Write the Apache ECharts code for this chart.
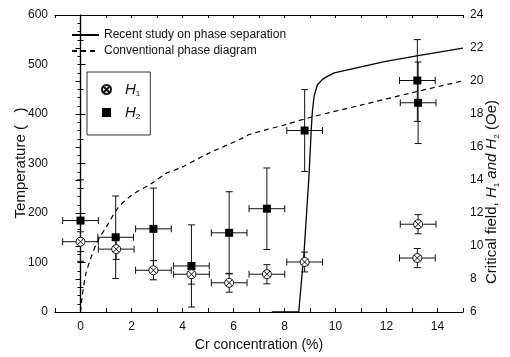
<!DOCTYPE html>
<html>
<head>
<meta charset="utf-8">
<script src="https://cdn.jsdelivr.net/npm/echarts@6/dist/echarts.min.js"></script>
<style>
  html, body { margin: 0; padding: 0; background: #fff; }
  #chart { width: 510px; height: 357px; }
</style>
</head>
<body>
<div id="chart"></div>
<script>
// measured points, Cr concentration (%) vs critical field (Oe)
const crH1 = [0, 1.4, 2.86, 4.35, 5.83, 7.31, 8.79, 13.24, 13.21];
const fieldH1 = [10.26, 9.81, 8.53, 8.29, 7.77, 8.29, 9.03, 11.32, 9.27];
const errH1 = [0.6, 0.62, 0.58, 0.6, 0.57, 0.58, 0.6, 0.58, 0.58];
const crH2 = [0, 1.38, 2.86, 4.35, 5.83, 7.31, 8.79, 13.21, 13.24];
const fieldH2 = [11.54, 10.53, 11.04, 8.79, 10.8, 12.26, 17.0, 20.03, 18.68];
const errH2 = [2.47, 2.5, 2.47, 2.49, 2.49, 2.47, 2.48, 2.48, 2.47];
const crErr = 0.7;

// phase boundaries, Cr (%) vs temperature
const recentCurve = [[7.5, 0], [8.56, 0], [8.66, 60], [8.76, 115], [8.86, 195], [8.96, 275],
  [9.05, 370], [9.09, 403], [9.16, 436], [9.29, 459], [9.49, 470], [9.68, 476], [9.95, 483],
  [11, 495], [11.92, 506], [13.24, 518], [15, 533]];
const conventionalCurve = [[0, 0], [0.05, 25], [0.2, 75], [0.4, 108], [0.66, 142], [1.05, 175],
  [1.45, 209], [1.98, 235], [2.77, 259], [3.36, 280], [3.95, 292], [5, 320], [6.26, 349],
  [6.65, 359], [8, 378], [9, 393], [11, 418], [13, 443], [15, 467]];

const names = ['Recent study on phase separation', 'Conventional phase diagram'];
const FONT = 'Liberation Sans';

const h1Symbol = 'path://M10,1 A9,9 0 1,1 9.99,1 Z M3.6,3.6 L16.4,16.4 M16.4,3.6 L3.6,16.4';

function zip(xs, ys, es) {
  return xs.map((x, i) => [x, ys[i], crErr, es[i]]);
}

function errorBars(params, api) {
  const x = api.value(0), y = api.value(1), ex = api.value(2), ey = api.value(3);
  const l = api.coord([x - ex, y]);
  const r = api.coord([x + ex, y]);
  const t = api.coord([x, y + ey]);
  const b = api.coord([x, y - ey]);
  const c = 3.5;
  const style = { stroke: '#111', lineWidth: 1 };
  const seg = (x1, y1, x2, y2) => ({ type: 'line', shape: { x1, y1, x2, y2 }, style });
  return {
    type: 'group',
    children: [
      seg(l[0], l[1], r[0], r[1]),
      seg(t[0], t[1], b[0], b[1]),
      seg(l[0], l[1] - c, l[0], l[1] + c),
      seg(r[0], r[1] - c, r[0], r[1] + c),
      seg(t[0] - c, t[1], t[0] + c, t[1]),
      seg(b[0] - c, b[1], b[0] + c, b[1])
    ]
  };
}

const chart = echarts.init(document.getElementById('chart'));

const tickLabel = { fontFamily: FONT, fontSize: 12, color: '#111' };

chart.setOption({
  animation: false,
  textStyle: { fontFamily: FONT },
  grid: { left: 55, right: 47, top: 15, bottom: 43 },
  legend: [
    {
      data: names,
      orient: 'vertical',
      left: 66,
      top: 24,
      itemWidth: 27,
      itemHeight: 10,
      itemGap: 4,
      itemStyle: { opacity: 0 },
      textStyle: { fontFamily: FONT, fontSize: 12, color: '#111' }
    },
    {
      data: ['H1', 'H2'],
      orient: 'vertical',
      left: 87,
      top: 72,
      padding: [10, 10, 14, 14],
      itemGap: 7,
      itemWidth: 9,
      itemHeight: 9,
      borderColor: '#333',
      borderWidth: 1,
      formatter: n => '{h|H}{s|' + n.slice(1) + '}',
      textStyle: {
        padding: [0, 0, 0, 9],
        rich: {
          h: { fontFamily: FONT, fontSize: 15, fontStyle: 'italic', color: '#111' },
          s: { fontFamily: FONT, fontSize: 8, color: '#111', padding: [9, 0, 0, 0] }
        }
      }
    }
  ],
  xAxis: [
    {
      type: 'value',
      min: -1, max: 15, interval: 1,
      name: 'Cr concentration (%)',
      nameLocation: 'middle',
      nameGap: 26,
      nameTextStyle: { fontFamily: FONT, fontSize: 14, color: '#111' },
      axisLine: { lineStyle: { color: '#000', width: 1.2 } },
      axisTick: { inside: true, length: 4, lineStyle: { color: '#000' } },
      axisLabel: Object.assign({ margin: 9, formatter: v => (v % 2 === 0 ? String(v) : '') }, tickLabel),
      splitLine: { show: false }
    },
    {
      type: 'value',
      position: 'top',
      min: -1, max: 15, interval: 1,
      axisLine: { lineStyle: { color: '#000', width: 1.2 } },
      axisTick: { inside: true, length: 3, lineStyle: { color: '#000' } },
      axisLabel: { show: false },
      splitLine: { show: false }
    }
  ],
  yAxis: [
    {
      type: 'value',
      min: 0, max: 600, interval: 100,
      axisLine: { show: true, lineStyle: { color: '#000', width: 1.2 } },
      axisTick: { inside: true, length: 5, lineStyle: { color: '#000' } },
      minorTick: { show: true, splitNumber: 2, length: 3, lineStyle: { color: '#000' } },
      axisLabel: Object.assign({ margin: 7 }, tickLabel),
      splitLine: { show: false }
    },
    {
      type: 'value',
      position: 'right',
      min: 6, max: 24, interval: 2,
      axisLine: { show: true, lineStyle: { color: '#000', width: 1.2 } },
      axisTick: { inside: true, length: 5, lineStyle: { color: '#000' } },
      minorTick: { show: true, splitNumber: 4, length: 3, lineStyle: { color: '#000' } },
      axisLabel: Object.assign({ margin: 7 }, tickLabel),
      splitLine: { show: false }
    }
  ],
  graphic: [
    {
      type: 'text',
      x: 21, y: 163,
      rotation: Math.PI / 2,
      style: {
        text: 'Temperature (   )',
        fontFamily: FONT,
        fontSize: 15,
        fill: '#111',
        align: 'center',
        verticalAlign: 'middle'
      }
    },
    {
      type: 'text',
      x: 492, y: 192,
      rotation: Math.PI / 2,
      style: {
        text: '{n|Critical field, }{h|H}{s|1}{h| and H}{s|2}{n| (Oe)}',
        align: 'center',
        verticalAlign: 'middle',
        rich: {
          n: { fontFamily: FONT, fontSize: 15, fill: '#111' },
          h: { fontFamily: FONT, fontSize: 15, fontStyle: 'italic', fill: '#111' },
          s: { fontFamily: FONT, fontSize: 8, fill: '#111', padding: [10, 0, 0, 0] }
        }
      }
    }
  ],
  series: [
    {
      name: names[0],
      type: 'line',
      data: recentCurve,
      yAxisIndex: 0,
      symbol: 'none',
      lineStyle: { color: '#000', width: 1.3 },
      itemStyle: { color: '#000' },
      z: 2
    },
    {
      name: names[1],
      type: 'line',
      data: conventionalCurve,
      yAxisIndex: 0,
      symbol: 'none',
      smooth: 0.3,
      lineStyle: { color: '#000', width: 1.2, type: [5, 4] },
      itemStyle: { color: '#000' },
      z: 2
    },
    {
      type: 'custom',
      yAxisIndex: 1,
      renderItem: errorBars,
      encode: { x: 0, y: 1 },
      data: zip(crH1, fieldH1, errH1).concat(zip(crH2, fieldH2, errH2)),
      silent: true,
      z: 3
    },
    {
      name: 'H2',
      type: 'scatter',
      yAxisIndex: 1,
      symbol: 'rect',
      symbolSize: 8,
      data: crH2.map((x, i) => [x, fieldH2[i]]),
      itemStyle: { color: '#000', opacity: 1 },
      z: 4
    },
    {
      name: 'H1',
      type: 'scatter',
      yAxisIndex: 1,
      symbol: h1Symbol,
      symbolSize: 9,
      data: crH1.map((x, i) => [x, fieldH1[i]]),
      itemStyle: { color: '#fff', borderColor: '#111', borderWidth: 1, opacity: 1 },
      z: 5
    }
  ]
});
</script>
</body>
</html>
